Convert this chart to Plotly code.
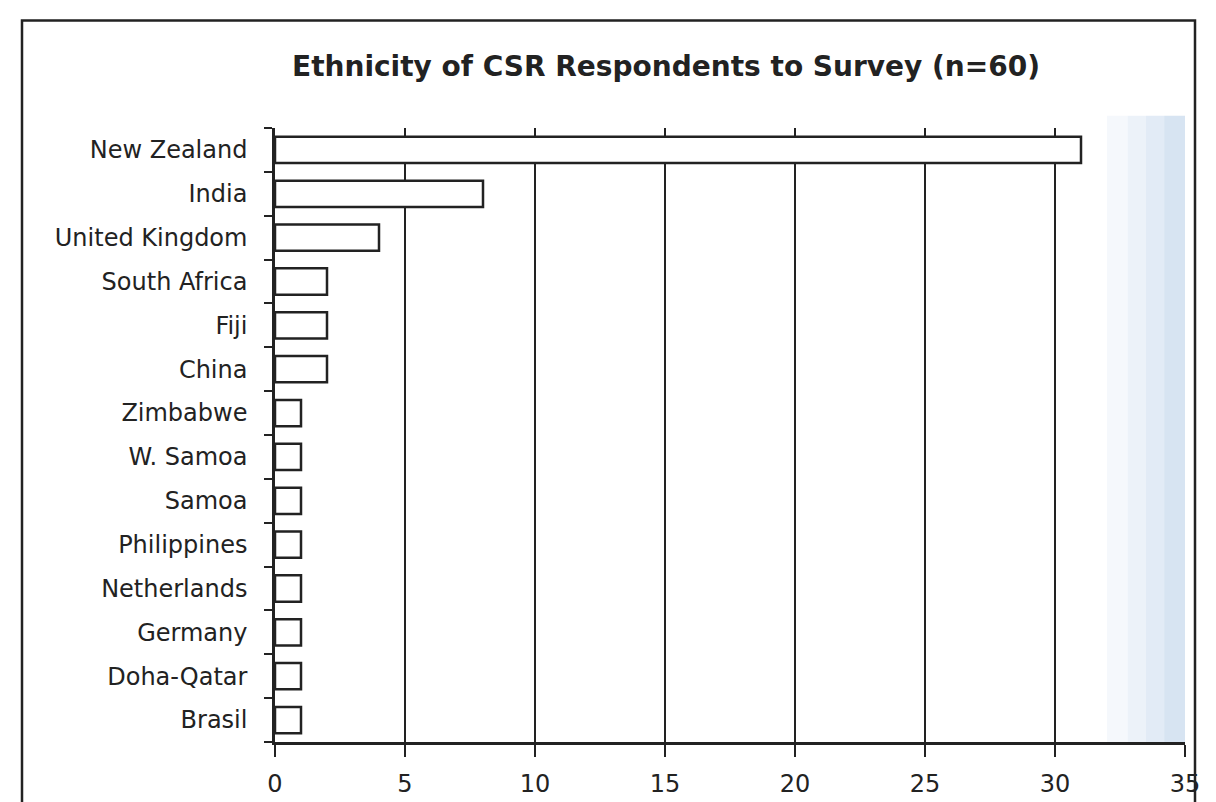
import plotly.graph_objects as go

countries = ["New Zealand", "India", "United Kingdom", "South Africa", "Fiji", "China",
             "Zimbabwe", "W. Samoa", "Samoa", "Philippines", "Netherlands", "Germany",
             "Doha-Qatar", "Brasil"]
counts = [31, 8, 4, 2, 2, 2, 1, 1, 1, 1, 1, 1, 1, 1]
x_ticks = [0, 5, 10, 15, 20, 25, 30, 35]

OFF = 8  # page body margin offset
L, T = 275 - OFF, 128 - OFF
R = 1216 - (1185 - OFF)
B = 802 - (745 - OFF)
pw = 1216 - L - R
ph = 802 - T - B

fig = go.Figure()
fig.add_trace(go.Bar(
    y=countries, x=counts, orientation="h",
    marker=dict(color="white", line=dict(color="#222", width=2.5)),
    width=0.6,
))

FONT = "DejaVu Sans, Verdana, sans-serif"
fig.update_layout(
    width=1216, height=802,
    margin=dict(l=L, r=R, t=T, b=B),
    paper_bgcolor="white", plot_bgcolor="white",
    showlegend=False,
    title=dict(text="<b>Ethnicity of CSR Respondents to Survey (n=60)</b>",
               x=(666 - OFF) / 1216, xanchor="center", y=1 - (66 - OFF) / 802, yanchor="middle",
               font=dict(family=FONT, size=28, color="#222")),
    font=dict(family=FONT, color="#222"),
    xaxis=dict(range=[0, 35], tickvals=x_ticks, ticktext=[str(v) for v in x_ticks],
               showgrid=True, gridcolor="#222", gridwidth=2,
               showline=True, linecolor="#222", linewidth=2.5,
               ticks="outside", ticklen=12, tickwidth=2, tickcolor="#222",
               tickfont=dict(size=24), zeroline=False, fixedrange=True,
               ticklabelstandoff=6),
    yaxis=dict(categoryorder="array", categoryarray=countries[::-1],
               showline=True, linecolor="#222", linewidth=2.5,
               ticks="outside", ticklen=8, tickwidth=2, tickcolor="#222",
               tickson="boundaries", showgrid=False,
               tickfont=dict(size=24), ticklabelstandoff=20),
    bargap=0.4,
)

# light scanned shading at right edge (stepped to mimic a gradient)
shade_steps = [(32.0, 32.8, 0.10), (32.8, 33.5, 0.20), (33.5, 34.2, 0.30), (34.2, 35.0, 0.42)]
for x0, x1, a in shade_steps:
    fig.add_shape(type="rect", xref="x", yref="paper", x0=x0, x1=x1, y0=0, y1=1.02,
                  fillcolor=f"rgba(160,190,225,{a})", line=dict(width=0), layer="below")

# outer frame of chart
fig.add_shape(type="rect", xref="paper", yref="paper",
              x0=(22 - OFF - L) / pw, x1=(1195 - OFF - L) / pw,
              y0=-0.2, y1=(802 - B - (20 - OFF)) / ph,
              line=dict(color="#222", width=2.5), fillcolor="rgba(0,0,0,0)")

fig.write_html("out.html")
